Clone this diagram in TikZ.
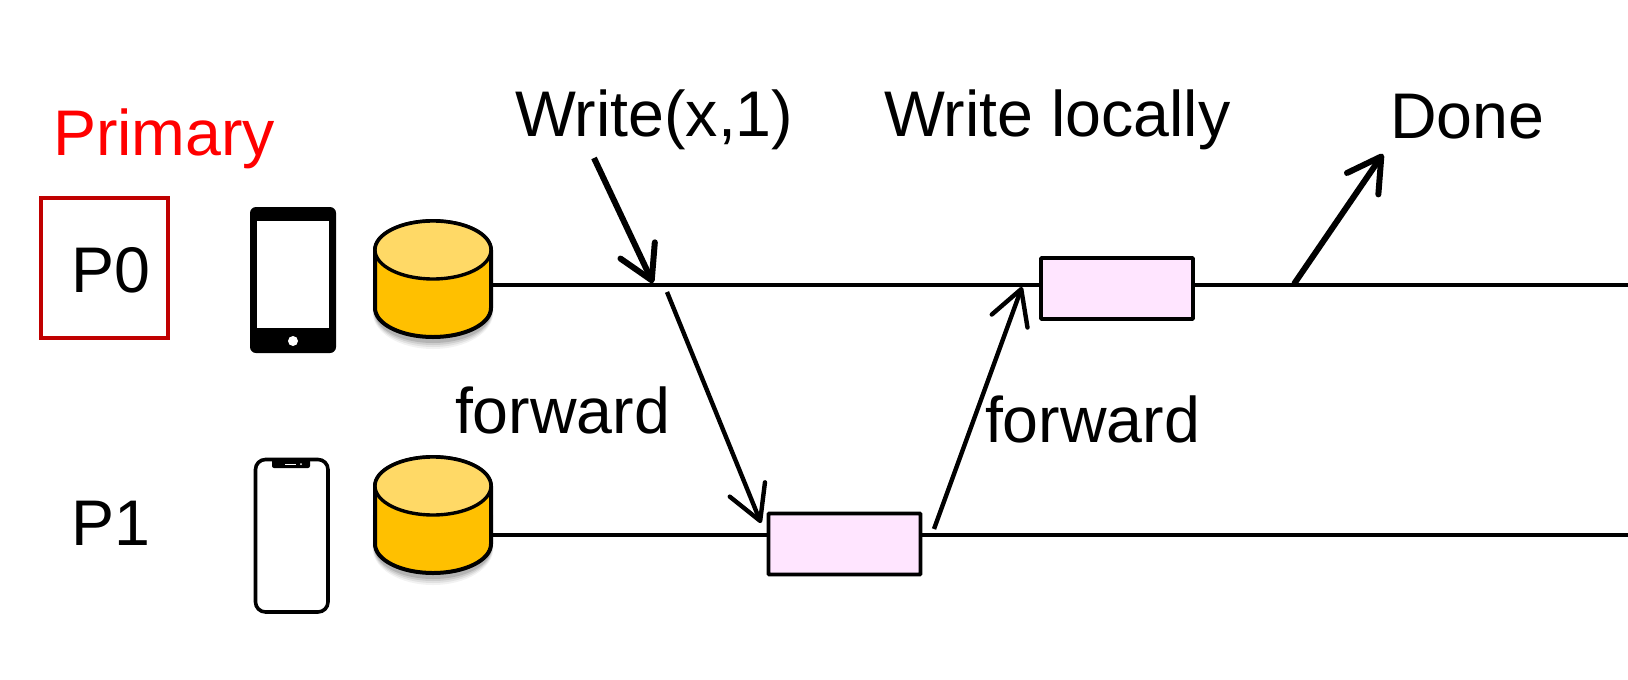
\documentclass[tikz,border=0pt]{standalone}
\usepackage{fontspec}
\setmainfont{Liberation Sans}
\usetikzlibrary{arrows.meta}
\definecolor{dbtop}{HTML}{FFD966}
\definecolor{dbbody}{HTML}{FFC000}
\definecolor{boxpink}{HTML}{FFE5FF}
\definecolor{redframe}{HTML}{C00000}
\tikzset{
  lbl/.style={font=\fontsize{64.5}{70}\selectfont, anchor=base west, inner sep=0pt, outer sep=0pt},
  timeline/.style={draw=black, line width=3.4pt},
  stepbox/.style={draw=black, fill=boxpink, line width=3.8pt, minimum width=152pt, minimum height=61pt, inner sep=0pt, rounded corners=0.8pt},
  thickarrow/.style={draw=black, line width=6pt, -{Straight Barb[length=33pt,width=38pt,round,line width=6pt]}},
  thinarrow/.style={draw=black, line width=4.4pt, -{Straight Barb[length=34pt,width=38pt,round,line width=4.4pt]}},
  port/.style={inner sep=0pt, minimum size=0pt}
}
\newcommand{\dbcyl}[2]{%
  \foreach \k/\o in {8/0.05,6/0.07,4/0.09,2/0.12}{
    \fill[black,opacity=\o] (#1-58-\k*0.3,#2) -- (#1-58-\k*0.3,#2+29+4) arc[start angle=180,end angle=0,x radius=58+\k*0.3,y radius=29+\k] -- (#1+58+\k*0.3,#2) -- cycle;
  }
  \path[draw=black,fill=dbbody,line width=4pt] (#1-58,#2-29) -- (#1-58,#2+29) arc[start angle=180,end angle=0,x radius=58,y radius=29] -- (#1+58,#2-29) arc[start angle=0,end angle=-180,x radius=58,y radius=29] -- cycle;
  \path[draw=black,fill=dbtop,line width=3.4pt] (#1,#2-29) ellipse[x radius=58,y radius=29];
}
\begin{document}
\begin{tikzpicture}[x=1pt,y=-1pt]
\useasboundingbox (0,0) rectangle (1628,680);
% named ends
\coordinate (rightA) at (1628,285);
\coordinate (rightB) at (1628,535);
\coordinate (w1start) at (594,158);
\coordinate (w1tip) at (653,283);
\coordinate (f1start) at (667,292);
\coordinate (f1tip) at (761,523);
\coordinate (f2start) at (934,529);
\coordinate (f2tip) at (1022,287);
\coordinate (d1start) at (1294,284);
\coordinate (d1tip) at (1383,154);
% timelines
\node[port] (dbA) at (492,285) {};
\node[port] (dbB) at (492,535) {};
\draw[timeline] (dbA) -- (rightA);
\draw[timeline] (dbB) -- (rightB);
% labels
\node[lbl,text=red] (primary) at (53,155) {Primary};
\node[draw=redframe,line width=3.6pt,minimum width=127pt,minimum height=140pt,inner sep=0pt] (p0frame) at (104.5,268) {};
\node[lbl] (p0) at (71,292) {P0};
\node[lbl] (p1) at (71,545) {P1};
\node[lbl] (write) at (515,136) {Write(x,1)};
\node[lbl] (local) at (884,136) {Write locally};
\node[lbl] (done) at (1390,138) {Done};
\node[lbl] (fw1) at (455,433) {forward};
\node[lbl] (fw2) at (985,442) {forward};
% phone P0
\fill[black,rounded corners=6pt] (250,207) rectangle (336,353);
\fill[white] (257,221) rectangle (329,328);
\fill[white] (293,341) circle[radius=5];
% phone P1
\draw[black,line width=3.6pt,rounded corners=10pt] (255.5,459.5) rectangle (328,612);
\fill[black,rounded corners=2pt] (272,459) -- (310,459) -- (310,468) -- (272,468) -- cycle;
\draw[white,line width=1pt] (285,464) -- (296,464);
\fill[white] (301,464) circle[radius=1];
% databases
\dbcyl{433}{279}
\dbcyl{433}{515}
% boxes
\node[stepbox] (boxB) at (844.5,544) {};
\node[stepbox] (boxA) at (1117,288.5) {};
% arrows
\draw[thickarrow] (w1start) -- (w1tip);
\draw[thinarrow] (f1start) -- (f1tip);
\draw[thinarrow] (f2start) -- (f2tip);
\draw[thickarrow] (d1start) -- (d1tip);
\end{tikzpicture}
\end{document}
